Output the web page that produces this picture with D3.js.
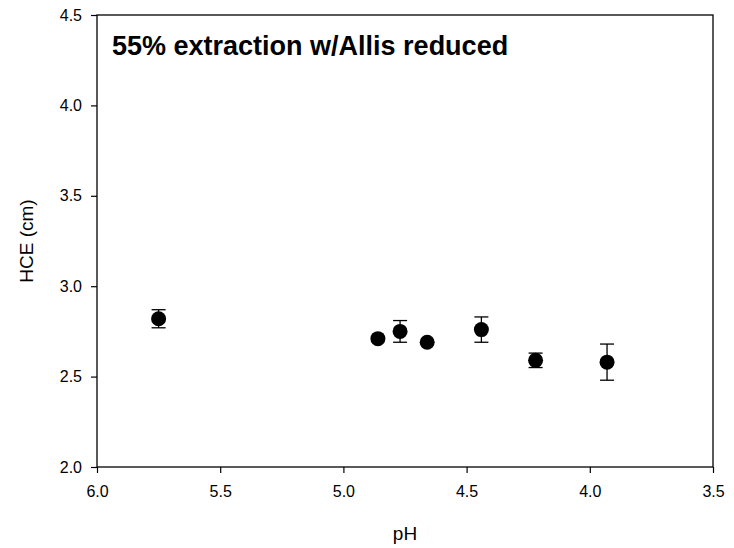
<!DOCTYPE html>
<html><head><meta charset="utf-8">
<script src="https://cdn.jsdelivr.net/npm/d3@7"></script>
<style>body{margin:0;background:#fff;} text{font-family:Arial,"Liberation Sans",sans-serif;}</style>
</head><body>
<svg id="c" width="734" height="548"></svg>
<script>
const pH = [5.75, 4.86, 4.77, 4.66, 4.44, 4.22, 3.93];
const hce = [2.82, 2.71, 2.75, 2.69, 2.76, 2.59, 2.58];
const err = [0.05, 0.01, 0.06, 0.01, 0.07, 0.04, 0.10];
const xTicks = [6.0, 5.5, 5.0, 4.5, 4.0, 3.5];
const yTicks = [2.0, 2.5, 3.0, 3.5, 4.0, 4.5];
const title = "55% extraction w/Allis reduced";

const svg = d3.select("#c");
const L = 97, R = 713, T = 15, B = 467;
const x = d3.scaleLinear().domain([6.0, 3.5]).range([L, R]);
const y = d3.scaleLinear().domain([2.0, 4.5]).range([B, T]);

svg.append("rect").attr("x", L).attr("y", T).attr("width", R - L).attr("height", B - T)
  .attr("fill", "none").attr("stroke", "#000").attr("stroke-width", 1.3);

const xAxis = svg.append("g").attr("transform", `translate(0,${B})`)
  .call(d3.axisBottom(x).tickValues(xTicks).tickFormat(d3.format(".1f")).tickSize(6).tickPadding(13));
const yAxis = svg.append("g").attr("transform", `translate(${L},0)`)
  .call(d3.axisLeft(y).tickValues(yTicks).tickFormat(d3.format(".1f")).tickSize(6).tickPadding(9));
[xAxis, yAxis].forEach(g => {
  g.select(".domain").remove();
  g.selectAll("line").attr("stroke", "#000").attr("stroke-width", 1.2);
  g.selectAll("text").attr("font-size", 16).attr("fill", "#000").attr("font-family", "Arial, 'Liberation Sans', sans-serif");
});

const eb = svg.append("g").attr("stroke", "#000").attr("stroke-width", 1.3);
pH.forEach((p, i) => {
  if (err[i] <= 0.015) return;
  const cx = x(p), y1 = y(hce[i] + err[i]), y2 = y(hce[i] - err[i]);
  eb.append("line").attr("x1", cx).attr("x2", cx).attr("y1", y1).attr("y2", y2);
  eb.append("line").attr("x1", cx - 7).attr("x2", cx + 7).attr("y1", y1).attr("y2", y1);
  eb.append("line").attr("x1", cx - 7).attr("x2", cx + 7).attr("y1", y2).attr("y2", y2);
});

svg.append("g").selectAll("circle").data(pH).join("circle")
  .attr("cx", d => x(d)).attr("cy", (d, i) => y(hce[i])).attr("r", 7.5).attr("fill", "#000");

svg.append("text").attr("x", 112).attr("y", 55).attr("font-size", 27).attr("font-weight", "bold")
  .attr("fill", "#000").text(title);

svg.append("text").attr("x", (L + R) / 2).attr("y", 540).attr("text-anchor", "middle")
  .attr("font-size", 19).attr("fill", "#000").text("pH");
svg.append("text").attr("transform", `translate(33,${(T + B) / 2}) rotate(-90)`).attr("text-anchor", "middle")
  .attr("font-size", 19).attr("fill", "#000").text("HCE (cm)");
</script>
</body></html>
